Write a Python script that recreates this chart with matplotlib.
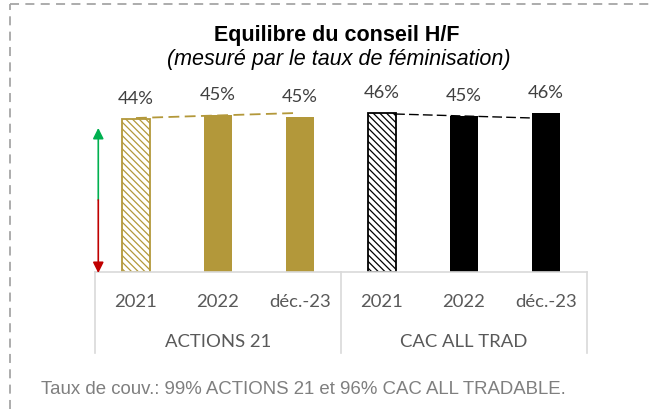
import matplotlib.pyplot as plt
from matplotlib.lines import Line2D

# data
categories = ['2021', '2022', 'déc.-23', '2021', '2022', 'déc.-23']
groups = ['ACTIONS 21', 'CAC ALL TRAD']
group_centers = [1, 4]
values = [44.0, 45.1, 44.6, 45.8, 44.9, 45.8]
value_labels = ['44%', '45%', '45%', '46%', '45%', '46%']
hatched = [True, False, False, True, False, False]

# dashed trend segments (x in bar index, y in %)
trend_a21_x = [0.0, 1.97]
trend_a21_y = [44.25, 45.7]
trend_cac_x = [3.16, 4.84]
trend_cac_y = [45.4, 44.25]

GOLD = '#B3983A'
BLACK = '#000000'
GRID = '#D9D9D9'
bar_colors = [GOLD, GOLD, GOLD, BLACK, BLACK, BLACK]

plt.rcParams['hatch.linewidth'] = 0.9

W, H = 652, 409
fig = plt.figure(figsize=(W / 100, H / 100), dpi=100)

# axes box in pixels: x 95..587, y 80..272
ax_l, ax_r, ax_t, ax_b = 95, 587, 80, 272
ax = fig.add_axes([ax_l / W, 1 - ax_b / H, (ax_r - ax_l) / W, (ax_b - ax_t) / H])
ax_h = ax_b - ax_t

x = list(range(len(values)))
for i in x:
    if hatched[i]:
        ax.bar(i, values[i], width=0.33, color='white', edgecolor=bar_colors[i],
               hatch='\\\\\\\\\\', linewidth=1.3)
    else:
        ax.bar(i, values[i], width=0.33, color=bar_colors[i], linewidth=0)
    ax.annotate(value_labels[i], (i, values[i]), xytext=(0, 10.8), textcoords='offset points',
                ha='center', va='baseline', fontsize=13.2, color='#404040', family='Lato')

ax.plot(trend_a21_x, trend_a21_y, color=GOLD, lw=1.3, dashes=(6, 3))
ax.plot(trend_cac_x, trend_cac_y, color=BLACK, lw=1.0, dashes=(7, 3))

# up / down arrow on the left
ax.annotate('', xy=(-0.46, 41.4), xytext=(-0.46, 20.7),
            arrowprops=dict(arrowstyle='-|>', color='#00B050', lw=1.2, mutation_scale=16,
                            shrinkA=0, shrinkB=0), annotation_clip=False)
ax.annotate('', xy=(-0.46, -0.3), xytext=(-0.46, 20.7),
            arrowprops=dict(arrowstyle='-|>', color='#C00000', lw=1.2, mutation_scale=16,
                            shrinkA=0, shrinkB=0), annotation_clip=False)

ax.set_xlim(-0.5, 5.5)
ax.set_ylim(0, ax_h / 3.48)
ax.set_xticks([])
ax.set_yticks([])
for s in ['top', 'right', 'left']:
    ax.spines[s].set_visible(False)
ax.spines['bottom'].set_color(GRID)
ax.spines['bottom'].set_linewidth(1.2)

# two-level category axis
tr = ax.get_xaxis_transform()
for sx in [-0.5, 2.5, 5.5]:
    ax.plot([sx, sx], [0, -81 / ax_h], color=GRID, lw=1.2, transform=tr, clip_on=False)
for i, c in enumerate(categories):
    ax.text(i, -(307 - ax_b) / ax_h, c, transform=tr, ha='center', va='baseline',
            fontsize=13.3, color='#595959', family='Lato')
for g, gx in zip(groups, group_centers):
    ax.text(gx, -(347 - ax_b) / ax_h, g, transform=tr, ha='center', va='baseline',
            fontsize=13.3, color='#595959', family='Lato')

fig.text(337 / W, 1 - 41 / H, 'Equilibre du conseil H/F', ha='center', va='baseline',
         fontsize=15.5, fontweight='bold', family='Liberation Sans')
fig.text(339 / W, 1 - 65.5 / H, '(mesuré par le taux de féminisation)', ha='center', va='baseline',
         fontsize=15.5, style='italic', family='Liberation Sans')
fig.text(41 / W, 1 - 394 / H, 'Taux de couv.: 99% ACTIONS 21 et 96% CAC ALL TRADABLE.',
         ha='left', va='baseline', fontsize=13.4, color='#7F7F7F', family='Liberation Sans')

# dashed frame (top and left visible)
fig.add_artist(Line2D([10 / W, 10 / W], [0, 1 - 4 / H], transform=fig.transFigure,
                      color='#A6A6A6', lw=1.3, dashes=(5, 3.5)))
fig.add_artist(Line2D([10 / W, 1], [1 - 4 / H, 1 - 4 / H], transform=fig.transFigure,
                      color='#A6A6A6', lw=1.3, dashes=(5, 3.5)))

fig.savefig('out.png', dpi=100)
